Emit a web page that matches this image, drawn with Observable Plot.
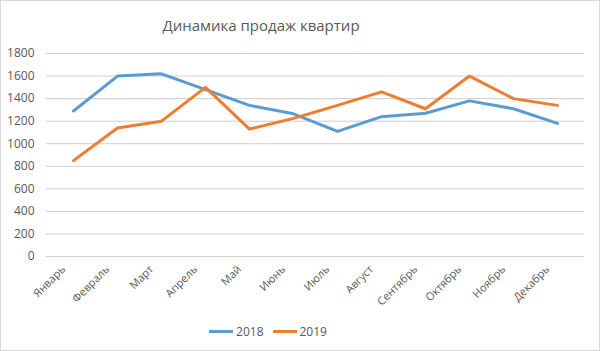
<!DOCTYPE html>
<html><head><meta charset="utf-8">
<script src="https://cdn.jsdelivr.net/npm/d3@7"></script>
<script src="https://cdn.jsdelivr.net/npm/@observablehq/plot@0.6"></script>
<style>
body{margin:0;background:#fff;}
#wrap{position:relative;width:598px;height:349px;border:1px solid #d9d9d9;background:#fff;font-family:"Open Sans",sans-serif;overflow:hidden;}
#title{height:39px;line-height:48px;font-size:15px;color:#595959;text-align:center;padding-right:78px;}
#legend{position:absolute;top:322px;left:0;width:598px;display:flex;justify-content:center;gap:9px;font-size:12px;color:#595959;padding-right:64px;box-sizing:border-box;}
.item{display:flex;align-items:center;gap:3px;}
.sw{display:inline-block;width:24px;height:3px;}
</style></head><body>
<div id="wrap"><div id="title">Динамика продаж квартир</div><div id="chart"></div><div id="legend"></div></div>
<script>
const months = ["Январь","Февраль","Март","Апрель","Май","Июнь","Июль","Август","Сентябрь","Октябрь","Ноябрь","Декабрь"];
const sales2018 = [1290,1600,1620,1480,1340,1265,1110,1240,1270,1380,1310,1180];
const sales2019 = [850,1140,1200,1500,1130,1225,1340,1460,1310,1600,1400,1340];
const seriesNames = ["2018","2019"];
const colors = ["#5B9BD5","#ED7D31"];
const yTicks = [0,200,400,600,800,1000,1200,1400,1600,1800];

const data = [];
[sales2018, sales2019].forEach((arr,i)=>arr.forEach((v,j)=>data.push({month:months[j],value:v,series:seriesNames[i]})));

const chart = Plot.plot({
  width:598, height:270,
  marginLeft:45, marginRight:15, marginTop:13, marginBottom:54,
  style:{fontFamily:"Open Sans, sans-serif", fontSize:"12px", color:"#595959", background:"transparent"},
  x:{type:"point", domain:months, padding:0.5},
  y:{domain:[0,1800]},
  color:{domain:seriesNames, range:colors},
  marks:[
    Plot.ruleY(yTicks,{stroke:"#cfcfcf", strokeWidth:1}),
    Plot.axisY(yTicks,{tickSize:0, tickPadding:12, label:null, fontSize:12, fill:"#595959", tickFormat:d=>String(d)}),
    Plot.axisX({tickSize:0, tickPadding:11, tickRotate:-45, label:null, fontSize:11, fill:"#595959", dx:-10}),
    Plot.line(data,{x:"month", y:"value", stroke:"series", strokeWidth:3, strokeLinejoin:"round", strokeLinecap:"round"})
  ]
});
document.getElementById("chart").appendChild(chart);

const lg = document.getElementById("legend");
seriesNames.forEach((n,i)=>{
  const it=document.createElement("div");it.className="item";
  it.innerHTML=`<span class="sw" style="background:${colors[i]}"></span><span>${n}</span>`;
  lg.appendChild(it);
});
</script>
</body></html>
